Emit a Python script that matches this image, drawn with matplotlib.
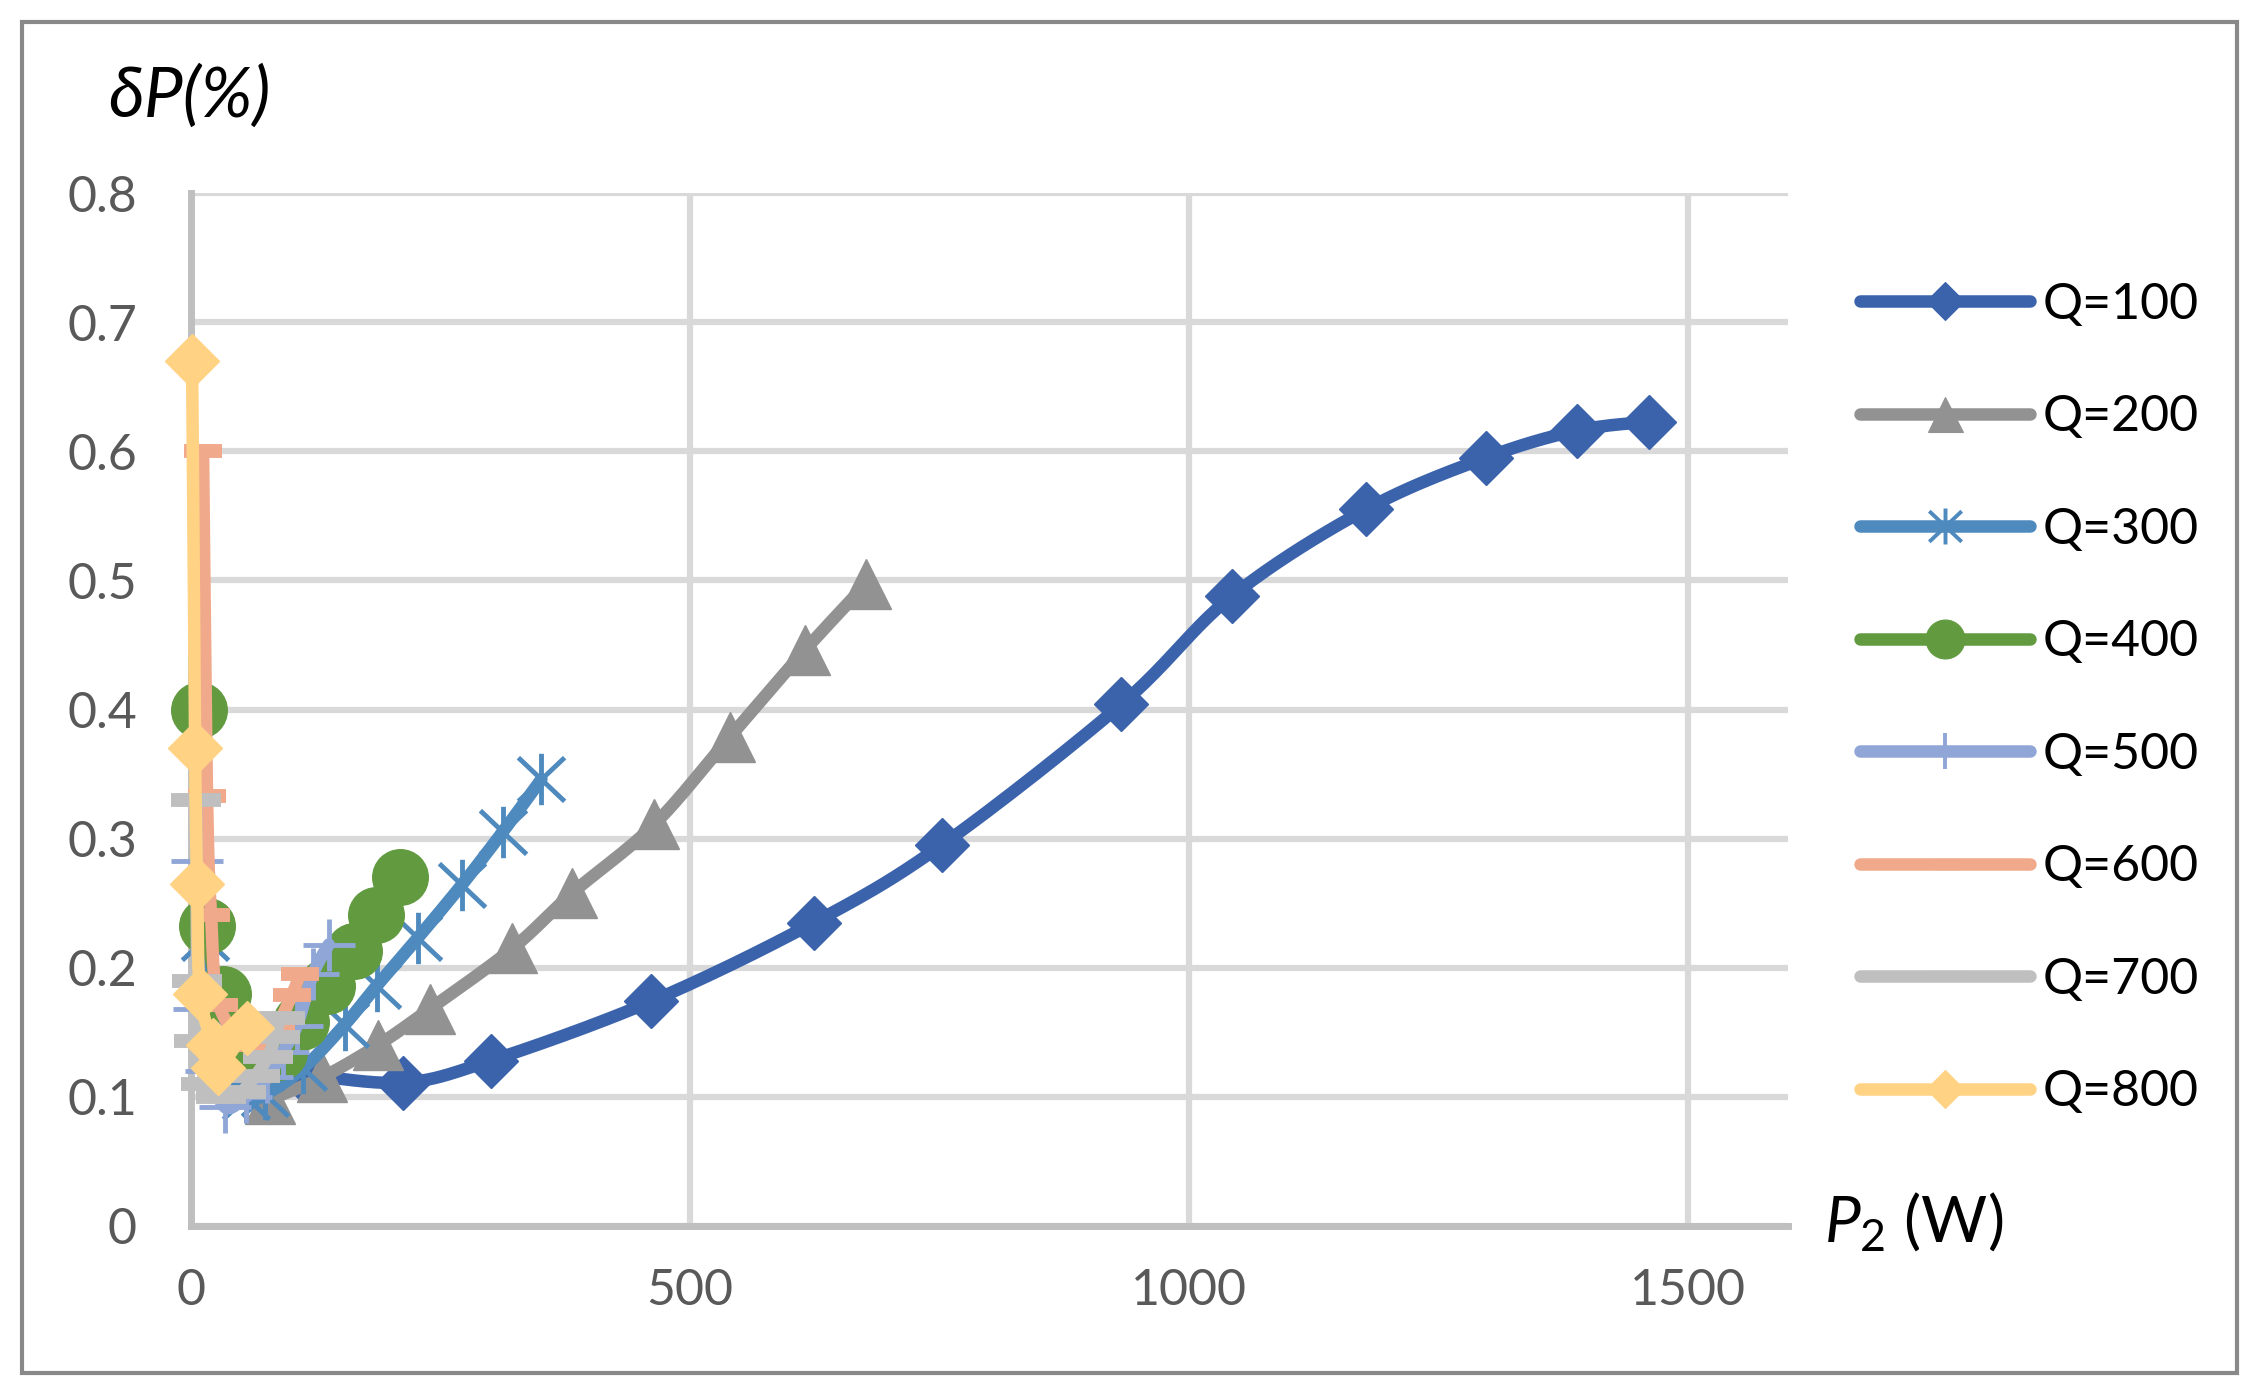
import numpy as np
import matplotlib
matplotlib.use("Agg")
import matplotlib.pyplot as plt
from matplotlib.path import Path
from matplotlib.patches import Rectangle

plt.rcParams["font.family"] = ["Lato", "DejaVu Sans"]
plt.rcParams["mathtext.fontset"] = "custom"
plt.rcParams["mathtext.it"] = "Lato:italic"
plt.rcParams["mathtext.rm"] = "Lato"

# P2 (W) and deltaP (%) for each flow Q
q100_x = [110, 212, 300, 461, 624, 752, 932, 1043, 1177, 1297, 1388, 1461]
q100_y = [0.118, 0.111, 0.128, 0.174, 0.235, 0.295, 0.404, 0.488, 0.555, 0.595, 0.616, 0.623]
q200_x = [79, 131, 187, 239, 322, 382, 464, 540, 615, 676]
q200_y = [0.098, 0.115, 0.14, 0.168, 0.215, 0.258, 0.311, 0.379, 0.446, 0.497]
q300_x = [14, 30, 55, 74, 112, 154, 186, 227, 271, 312, 351]
q300_y = [0.223, 0.14, 0.10, 0.102, 0.122, 0.156, 0.186, 0.223, 0.264, 0.305, 0.346]
q400_x = [8, 16, 32, 60, 88, 110, 136, 163, 185, 209]
q400_y = [0.40, 0.232, 0.18, 0.14, 0.135, 0.158, 0.186, 0.213, 0.241, 0.27]
q500_x = [6, 8, 20, 34, 55, 76, 92, 106, 122, 138]
q500_y = [0.283, 0.168, 0.12, 0.092, 0.10, 0.115, 0.135, 0.155, 0.195, 0.218]
q600_x = [12, 16, 20, 28, 60, 85, 101, 109]
q600_y = [0.60, 0.333, 0.241, 0.171, 0.14, 0.155, 0.179, 0.195]
q700_x = [5, 6, 8, 15, 30, 50, 64, 77, 84, 89]
q700_y = [0.33, 0.19, 0.143, 0.11, 0.10, 0.104, 0.116, 0.131, 0.146, 0.161]
q800_x = [1, 4, 6, 9, 22, 27, 56]
q800_y = [0.67, 0.37, 0.265, 0.18, 0.14, 0.122, 0.153]

labels = ["Q=100", "Q=200", "Q=300", "Q=400", "Q=500", "Q=600", "Q=700", "Q=800"]
colors = ["#3B63AC", "#929292", "#4E8ABE", "#619A3F", "#90A6D6", "#F1A98B", "#BFBFBF", "#FFD284"]
xticks = [0, 500, 1000, 1500]
yticks = [0, 0.1, 0.2, 0.3, 0.4, 0.5, 0.6, 0.7, 0.8]

star = Path([(0, -1), (0, 1), (-0.9, -0.85), (0.9, 0.85), (-0.9, 0.85), (0.9, -0.85)],
            [Path.MOVETO, Path.LINETO, Path.MOVETO, Path.LINETO, Path.MOVETO, Path.LINETO])
# marker, size, edge width
mstyle = [("D", 28, 1), ("^", 36, 1), (star, 37, 3.5), ("o", 40, 1),
          ("+", 37, 3.5), ("_", 28, 10), ("_", 36, 10), ("D", 28, 1)]


def smooth(x, y, n=24):
    # excel-like smoothed line, catmull-rom in screen-ish units
    sx, sy = 1598 / 1600, 1033 / 0.8
    p = np.column_stack([np.asarray(x, float) * sx, np.asarray(y, float) * sy])
    out = [p[0]]
    t = np.linspace(0, 1, n)[1:, None]
    for i in range(len(p) - 1):
        p0 = p[max(i - 1, 0)]; p1 = p[i]; p2 = p[i + 1]; p3 = p[min(i + 2, len(p) - 1)]
        c1 = p1 + (p2 - p0) / 6; c2 = p2 - (p3 - p1) / 6
        seg = (1 - t) ** 3 * p1 + 3 * (1 - t) ** 2 * t * c1 + 3 * (1 - t) * t ** 2 * c2 + t ** 3 * p2
        out.extend(seg)
    out = np.array(out)
    return out[:, 0] / sx, out[:, 1] / sy


fig = plt.figure(figsize=(22.56, 14), dpi=100)
ax = fig.add_axes([0.0847, 0.1243, 0.7079, 0.7378])

series = [(q100_x, q100_y), (q200_x, q200_y), (q300_x, q300_y), (q400_x, q400_y),
          (q500_x, q500_y), (q600_x, q600_y), (q700_x, q700_y), (q800_x, q800_y)]
handles = []
for i, ((xs, ys), lab, col, (mk, ms, mew)) in enumerate(zip(series, labels, colors, mstyle)):
    lx, ly = smooth(xs, ys)
    ax.plot(lx, ly, color=col, lw=9, solid_capstyle="round", zorder=3 + 2 * i, clip_on=False)
    ax.plot(xs, ys, ls="none", marker=mk, ms=ms, mew=mew, mfc=col, mec=col,
            zorder=4 + 2 * i, clip_on=False)
    h, = ax.plot([], [], color=col, lw=9, solid_capstyle="round", marker=mk,
                 ms=ms * 0.7, mew=mew * 0.8, mfc=col, mec=col)
    handles.append(h)

ax.set_xlim(0, 1600); ax.set_ylim(0, 0.8)
ax.set_xticks(xticks); ax.set_yticks(yticks)
ax.set_xticklabels([str(v) for v in xticks])
ax.set_yticklabels(["0"] + [f"{v:.1f}" for v in yticks[1:]])
ax.tick_params(length=0, labelsize=36, labelcolor="#595959")
ax.tick_params(axis="y", pad=39); ax.tick_params(axis="x", pad=30)
ax.grid(True, color="#D9D9D9", lw=4.5)
ax.set_axisbelow(True)
for s in ["top", "right"]:
    ax.spines[s].set_visible(False)
for s in ["left", "bottom"]:
    ax.spines[s].set_color("#BFBFBF"); ax.spines[s].set_linewidth(5)

fig.text(0.0479, 0.931, "δP(%)", fontsize=50, style="italic", ha="left", va="center")
fig.text(0.8085, 0.1129, r"$\mathit{P_2}$ (W)", fontsize=46, ha="left", va="baseline")

fig.legend(handles, labels, loc="center left", bbox_to_anchor=(0.8245, 0.501), frameon=False,
           fontsize=36, handlelength=3.4, handletextpad=0.25, labelspacing=1.33,
           borderpad=0, borderaxespad=0)

fig.patches.append(Rectangle((0.0098, 0.0193), 0.9818, 0.965, transform=fig.transFigure,
                             fill=False, ec="#898989", lw=3))
fig.savefig("out.png", dpi=100)
